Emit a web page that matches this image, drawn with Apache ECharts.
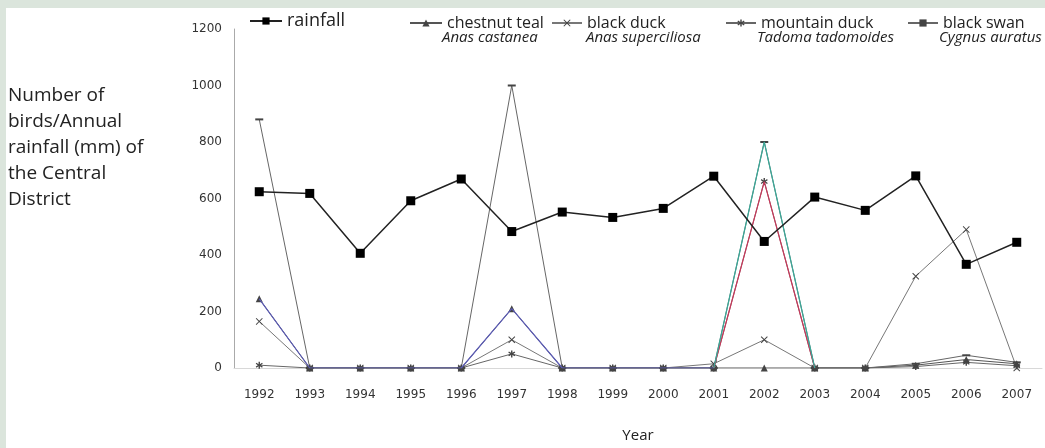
<!DOCTYPE html>
<html><head><meta charset="utf-8">
<script src="https://cdn.jsdelivr.net/npm/echarts@6/dist/echarts.min.js"></script>
<style>html,body{margin:0;padding:0;background:#fff}#c{width:1045px;height:448px}</style>
</head><body><div id="c"></div>
<script>
const years = ['1992','1993','1994','1995','1996','1997','1998','1999','2000','2001','2002','2003','2004','2005','2006','2007'];
const rainfall      = [624,618,406,592,669,483,552,533,565,679,448,605,558,680,367,445];
const chestnutTeal  = [245,0,0,0,0,210,0,0,0,0,0,0,0,10,30,15];
const blackDuck     = [165,0,0,0,0,100,0,0,0,15,100,0,0,325,490,0];
const mountainDuck  = [10,0,0,0,0,50,0,0,0,0,660,0,0,5,20,8];
const blackSwan     = [880,0,0,0,0,1000,0,0,0,0,800,0,0,15,45,20];
const yTicks = [0,200,400,600,800,1000,1200];
const names = ['rainfall','chestnut teal','black duck','mountain duck','black swan'];
const latin = ['Anas castanea','Anas superciliosa','Tadoma tadomoides','Cygnus auratus'];

const F = '"Open Sans", "Noto Sans", sans-serif';
const xPath = 'path://M0,1L1,0L5,4L9,0L10,1L6,5L10,9L9,10L5,6L1,10L0,9L4,5Z';
const starPath = 'path://M4,0L6,0L6,3.5L9,1.5L10,3L7,5L10,7L9,8.5L6,6.5L6,10L4,10L4,6.5L1,8.5L0,7L3,5L0,3L1,1.5L4,3.5Z';

function part(arr, from, to){ return arr.map((v,i)=> (i>=from && i<=to) ? v : '-'); }

function legendAt(name, left, top, fs, w){
  return {data:[name], left:left, top:top, itemWidth:w, itemHeight:9, itemGap:6,
    textStyle:{fontFamily:F, fontSize:fs, color:'#222'}, selectedMode:false};
}
function birdSeries(name, data, color, symbol, size){
  return {name:name, type:'line', data:data, symbol:symbol, symbolSize:size,
    lineStyle:{width:1, color:color}, itemStyle:{color:'#444'}, z:2, animation:false};
}
function overlay(name, data, color, z){
  return {name:name+' ', type:'line', data:data, symbol:'none', connectNulls:false,
    lineStyle:{width:1.2, color:color}, z:z, animation:false, silent:true};
}
const italic = 'italic 15px "Open Sans", sans-serif';

const chart = echarts.init(document.getElementById('c'));
chart.setOption({
  animation:false,
  backgroundColor:'#ffffff',
  grid:{left:234, right:3, top:29, bottom:72},
  legend:[
    legendAt(names[0], 244, 7, 18, 32),
    legendAt(names[1], 404, 10, 16, 32),
    legendAt(names[2], 546, 10, 16, 30),
    legendAt(names[3], 720, 10, 16, 30),
    legendAt(names[4], 902, 10, 16, 30)
  ],
  xAxis:{type:'category', data:years, boundaryGap:true,
    axisLine:{show:true, lineStyle:{color:'#d8d8d8'}}, axisTick:{show:false},
    axisLabel:{fontFamily:'"DejaVu Sans", sans-serif', fontSize:12, color:'#333', margin:21},
    name:'Year', nameLocation:'middle', nameGap:60,
    nameTextStyle:{fontFamily:F, fontSize:15, color:'#222'}},
  yAxis:{type:'value', min:yTicks[0], max:yTicks[yTicks.length-1], interval:200,
    axisLine:{show:true, lineStyle:{color:'#aaaaaa'}}, axisTick:{show:false},
    splitLine:{show:false},
    axisLabel:{fontFamily:'"DejaVu Sans", sans-serif', fontSize:12, color:'#333', margin:12,
      formatter:v=>String(v)}},
  graphic:[
    {type:'rect', left:0, top:0, shape:{width:1045, height:8}, style:{fill:'#dbe5dc'}, silent:true},
    {type:'rect', left:0, top:0, shape:{width:6, height:448}, style:{fill:'#dbe5dc'}, silent:true},
    {type:'text', left:8, top:83, style:{text:'Number of\nbirds/Annual\nrainfall (mm) of\nthe Central\nDistrict',
      font:'19px "Open Sans", sans-serif', lineHeight:26, fill:'#222'}},
    {type:'text', left:442, top:30, style:{text:latin[0], font:italic, fill:'#222'}},
    {type:'text', left:586, top:30, style:{text:latin[1], font:italic, fill:'#222'}},
    {type:'text', left:757, top:30, style:{text:latin[2], font:italic, fill:'#222'}},
    {type:'text', left:939, top:30, style:{text:latin[3], font:italic, fill:'#222'}}
  ],
  series:[
    birdSeries(names[1], chestnutTeal, '#555555', 'triangle', 7),
    birdSeries(names[2], blackDuck, '#777777', xPath, 7),
    birdSeries(names[3], mountainDuck, '#666666', starPath, 7),
    birdSeries(names[4], blackSwan, '#666666', 'rect', [8,2]),
    overlay(names[1], part(chestnutTeal, 0, 9), '#5b5bb4', 3),
    overlay(names[3], part(mountainDuck, 9, 11), '#c8385a', 3),
    overlay(names[4], part(blackSwan, 9, 11), '#3aa898', 3),
    {name:names[0], type:'line', data:rainfall, symbol:'rect', symbolSize:9,
     lineStyle:{width:1.5, color:'#222'}, itemStyle:{color:'#000'}, z:5, animation:false}
  ]
});
</script></body></html>
